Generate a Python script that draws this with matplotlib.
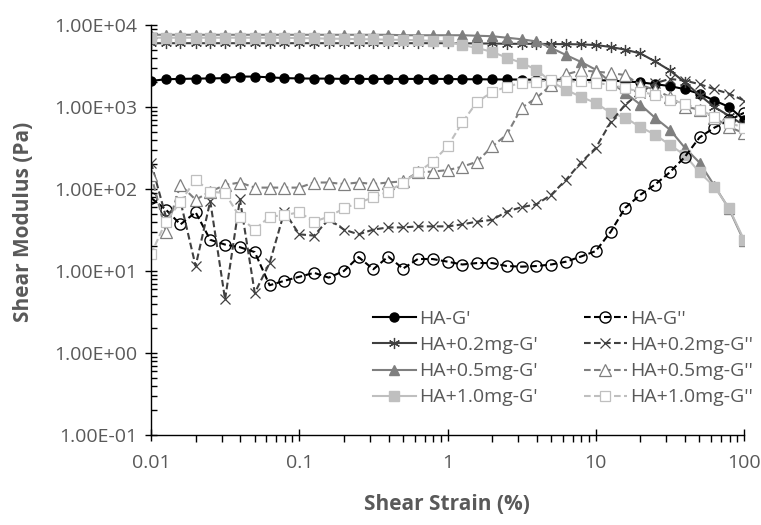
import numpy as np
import matplotlib
matplotlib.use("Agg")
import matplotlib.pyplot as plt
from matplotlib.ticker import LogLocator, FixedLocator, NullFormatter

plt.rcParams['font.family'] = ['Open Sans', 'DejaVu Sans']

# shear strain (%) - 10 points per decade
strain = [0.01, 0.0126, 0.0158, 0.02, 0.0251, 0.0316, 0.0398, 0.0501, 0.0631, 0.0794,
          0.1, 0.126, 0.158, 0.2, 0.251, 0.316, 0.398, 0.501, 0.631, 0.794,
          1.0, 1.26, 1.58, 2.0, 2.51, 3.16, 3.98, 5.01, 6.31, 7.94,
          10.0, 12.6, 15.8, 20.0, 25.1, 31.6, 39.8, 50.1, 63.1, 79.4, 100.0]

ha_gp = [2080, 2180, 2200, 2220, 2230, 2250, 2350, 2350, 2300, 2250,
         2230, 2220, 2220, 2200, 2200, 2200, 2200, 2200, 2200, 2200,
         2200, 2180, 2180, 2170, 2170, 2160, 2150, 2150, 2150, 2140,
         2130, 2100, 2050, 2000, 1900, 1800, 1650, 1450, 1200, 1000, 700]
ha_gpp = [78, 56, 37, 52, 24, 21, 19.5, 17, 6.7, 7.6,
          8.5, 9.5, 8.3, 10, 14.8, 10.5, 15, 10.7, 14, 14,
          13, 12, 12.5, 12.5, 11.5, 11.3, 11.5, 12, 13, 15,
          17.5, 30, 59, 85, 113, 160, 245, 425, 560, 690, 850]

ha02_gp = [6000, 6000, 6000, 6000, 6000, 6000, 6000, 6000, 6000, 6000,
           6000, 6000, 6000, 6000, 6000, 6000, 6000, 6000, 6000, 6000,
           6000, 6000, 5950, 5950, 5900, 5900, 5900, 5850, 5850, 5800,
           5700, 5400, 5000, 4500, 3600, 2800, 2000, 1400, 1000, 780, 600]
ha02_gpp = [210, 46, 71, 11.5, 71, 4.5, 75, 5.4, 12.5, 53,
            28, 27, 43, 32, 28, 32, 34, 34, 35, 35,
            35, 37, 40, 42, 53, 60, 65, 85, 130, 210,
            316, 650, 1070, 1500, 1950, 2200, 2100, 1900, 1650, 1450, 1200]

ha05_gp = [7600, 7600, 7600, 7600, 7600, 7600, 7600, 7600, 7600, 7600,
           7600, 7600, 7600, 7600, 7600, 7600, 7600, 7500, 7500, 7500,
           7500, 7500, 7400, 7300, 7000, 6700, 6300, 5250, 4300, 3550,
           2850, 2000, 1490, 1070, 740, 530, 320, 210, 110, 57, 23]
ha05_gpp = [150, 30, 112, 74, 93, 112, 120, 104, 104, 104,
            104, 120, 120, 115, 120, 115, 120, 124, 160, 163,
            170, 187, 215, 330, 460, 980, 1290, 1860, 2500, 2800,
            2700, 2600, 2450, 1860, 1620, 1330, 1010, 930, 740, 570, 480]

ha10_gp = [7000, 7000, 7000, 7000, 7000, 7000, 7000, 7000, 7000, 7000,
           6900, 6900, 6800, 6800, 6700, 6700, 6600, 6600, 6500, 6400,
           6300, 5700, 5250, 4700, 4000, 3450, 2850, 2030, 1620, 1330,
           1120, 850, 740, 570, 460, 345, 260, 160, 107, 58, 24]
ha10_gpp = [16, 40, 70, 130, 93, 89, 45, 32, 46, 48,
            52, 40, 46, 58, 68, 79, 93, 120, 160, 215,
            330, 650, 1150, 1520, 1770, 1970, 2030, 2130, 2050, 2050,
            1970, 1860, 1700, 1530, 1410, 1230, 1100, 930, 760, 640, 560]

c_ha, c02, c05, c10 = '#000000', '#404040', '#7f7f7f', '#bfbfbf'
txt_col = '#595959'

fig = plt.figure(figsize=(7.61, 5.25), dpi=100)
ax = fig.add_axes([151/761, 1-435/525, (744-151)/761, (435-25)/525])

lw = 1.5
dash = (3.2, 1.6)
ms = 6.5

l1, = ax.plot(strain, ha_gp, '-', color=c_ha, lw=lw, marker='o', ms=ms, label="HA-G'")
l2, = ax.plot(strain, ha02_gp, '-', color=c02, lw=lw, marker=(6, 2, 0), ms=8, mew=0.9,
              label="HA+0.2mg-G'")
l3, = ax.plot(strain, ha05_gp, '-', color=c05, lw=lw, marker='^', ms=ms, label="HA+0.5mg-G'")
l4, = ax.plot(strain, ha10_gp, '-', color=c10, lw=lw, marker='s', ms=ms, label="HA+1.0mg-G'")

d1, = ax.plot(strain, ha_gpp, '--', dashes=dash, color=c_ha, lw=lw, marker='o', ms=8,
              mfc='none', mew=1.0, label="HA-G''")
d2, = ax.plot(strain, ha02_gpp, '--', dashes=dash, color=c02, lw=lw, marker='x', ms=7.5,
              mew=0.9, label="HA+0.2mg-G''")
d3, = ax.plot(strain, ha05_gpp, '--', dashes=dash, color=c05, lw=lw, marker='^', ms=8,
              mfc='white', mew=0.9, label="HA+0.5mg-G''")
d4, = ax.plot(strain, ha10_gpp, '--', dashes=dash, color=c10, lw=lw, marker='s', ms=7.5,
              mfc='white', mew=0.9, label="HA+1.0mg-G''")

ax.set_xscale('log')
ax.set_yscale('log')
ax.set_xlim(0.01, 100)
ax.set_ylim(0.1, 1e4)

ax.spines['top'].set_visible(False)
ax.spines['right'].set_visible(False)
for s in ['left', 'bottom']:
    ax.spines[s].set_color('black')
    ax.spines[s].set_linewidth(1.0)

ax.xaxis.set_major_locator(FixedLocator([0.01, 0.1, 1, 10, 100]))
ax.set_xticklabels(['0.01', '0.1', '1', '10', '100'])
ax.xaxis.set_minor_locator(LogLocator(base=10, subs=np.arange(2, 10), numticks=20))
ax.xaxis.set_minor_formatter(NullFormatter())

ax.yaxis.set_major_locator(FixedLocator([0.1, 1, 10, 100, 1000, 10000]))
ax.set_yticklabels(['1.00E-01', '1.00E+00', '1.00E+01', '1.00E+02', '1.00E+03', '1.00E+04'])
ax.yaxis.set_minor_locator(LogLocator(base=10, subs=np.arange(2, 10), numticks=20))
ax.yaxis.set_minor_formatter(NullFormatter())

ax.tick_params(axis='both', which='major', direction='inout', length=8, width=1,
               labelsize=14, labelcolor=txt_col, color='black')
ax.tick_params(axis='x', which='minor', direction='out', length=5, width=1)
ax.tick_params(axis='y', which='minor', direction='in', length=4, width=1)
ax.tick_params(axis='x', which='major', pad=10)
ax.tick_params(axis='y', which='major', pad=6)

fig.text(447/761, 1-505/525, 'Shear Strain (%)', ha='center', va='center',
         fontsize=15, fontweight='bold', color=txt_col)
fig.text(24/761, 1-222/525, 'Shear Modulus (Pa)', ha='center', va='center',
         rotation=90, fontsize=15, fontweight='bold', color=txt_col)

leg = fig.legend(handles=[l1, l2, l3, l4, d1, d2, d3, d4], ncol=2,
                 loc='upper left', bbox_to_anchor=(373/761, 1-310/525),
                 frameon=False, fontsize=14, labelcolor=txt_col,
                 handlelength=2.2, handletextpad=0.15, columnspacing=2.4,
                 labelspacing=0.42, borderpad=0, borderaxespad=0)

fig.savefig('out.png', dpi=100)
